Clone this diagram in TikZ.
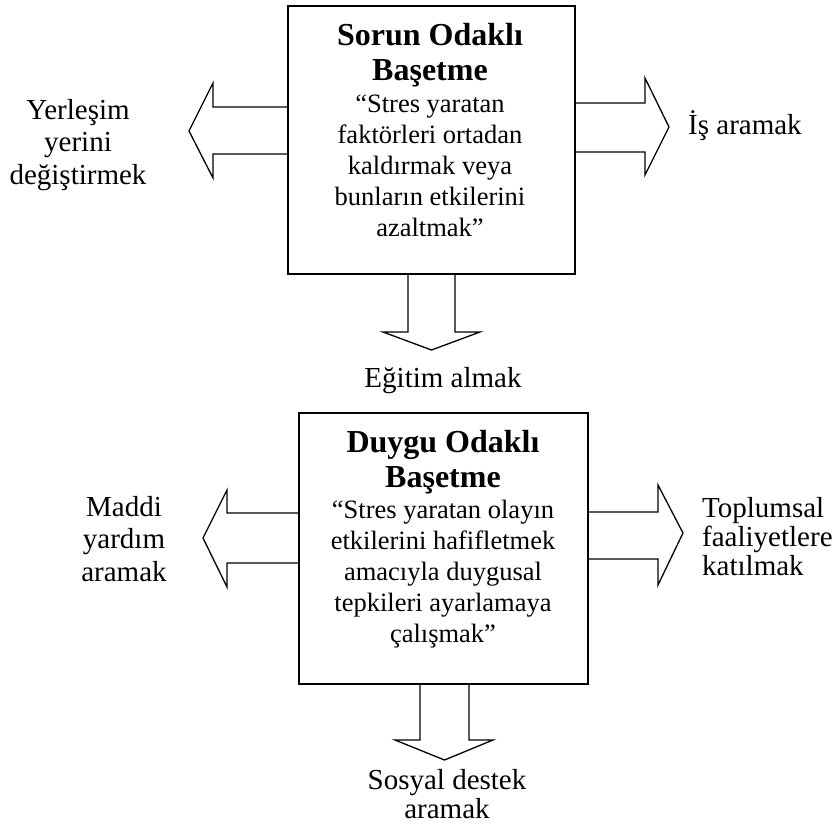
\documentclass[tikz,border=0pt]{standalone}
\usepackage{fontspec}
\setmainfont{Liberation Serif}
\begin{document}
\begin{tikzpicture}[x=1pt,y=-1pt,
  boxrect/.style={draw, line width=1.8pt, inner sep=0pt, anchor=north west},
  blockarrow/.style={draw, line width=1.3pt, line join=miter},
  titletext/.style={font=\fontsize{32}{35}\selectfont\bfseries, align=center, inner sep=0pt, anchor=base},
  bodytext/.style={font=\fontsize{26.5}{31}\selectfont, align=center, inner sep=0pt, anchor=base},
  sidetext/.style={font=\fontsize{29}{32.5}\selectfont, align=center, inner sep=0pt, anchor=base}
]
\useasboundingbox (0,0) rectangle (838,835);
% boxes
\node[boxrect, minimum width=287pt, minimum height=268pt] (b1) at (287,5) {};
\node[boxrect, minimum width=289pt, minimum height=271pt] (b2) at (298,412) {};
% arrows of the upper box
\draw[blockarrow] (b1.west |- 0,107) -- (213,107) -- (213,83) -- (189,131) -- (213,178) -- (213,154) -- (b1.west |- 0,154);
\draw[blockarrow] (b1.east |- 0,103) -- (645,103) -- (645,78) -- (669,127) -- (645,175) -- (645,152) -- (b1.east |- 0,152);
\draw[blockarrow] (b1.south -| 408,0) -- (408,332) -- (383,332) -- (431.5,350) -- (480,332) -- (455,332) -- (b1.south -| 455,0);
% arrows of the lower box
\draw[blockarrow] (b2.west |- 0,513) -- (227,513) -- (227,490) -- (203,538) -- (227,587) -- (227,563) -- (b2.west |- 0,563);
\draw[blockarrow] (b2.east |- 0,512) -- (658,512) -- (658,485) -- (683,533) -- (658,585) -- (658,559) -- (b2.east |- 0,559);
\draw[blockarrow] (b2.south -| 420,0) -- (420,740) -- (395,740) -- (444.5,760) -- (493,740) -- (469,740) -- (b2.south -| 469,0);
% box texts (anchor base = baseline of the last line)
\node[titletext] (t1) at (430,80) {Sorun Odaklı\\Başetme};
\node[bodytext] (d1) at (430,236) {“Stres yaratan\\faktörleri ortadan\\kaldırmak veya\\bunların etkilerini\\azaltmak”};
\node[titletext] (t2) at (443,487) {Duygu Odaklı\\Başetme};
\node[bodytext] (d2) at (443,642) {“Stres yaratan olayın\\etkilerini hafifletmek\\amacıyla duygusal\\tepkileri ayarlamaya\\çalışmak”};
% side texts
\node[sidetext] (l1) at (78,184) {Yerleşim\\yerini\\değiştirmek};
\node[sidetext, anchor=base west] (r1) at (688,134) {İş aramak};
\node[sidetext] (s1) at (443,387) {Eğitim almak};
\node[sidetext] (l2) at (124,581) {Maddi\\yardım\\aramak};
\node[sidetext, align=left, anchor=base west, font=\fontsize{29}{29}\selectfont] (r2) at (702,575) {Toplumsal\\faaliyetlere\\katılmak};
\node[sidetext, font=\fontsize{29}{28.5}\selectfont] (s2) at (447,818) {Sosyal destek\\aramak};
\end{tikzpicture}
\end{document}
